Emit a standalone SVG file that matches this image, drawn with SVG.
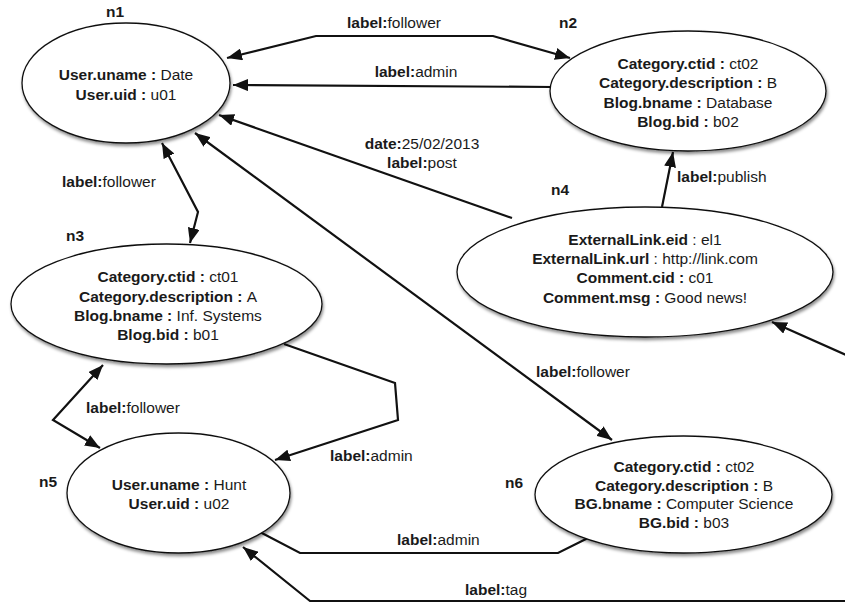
<svg xmlns="http://www.w3.org/2000/svg" width="845" height="603" viewBox="0 0 845 603">
<style>
text{font-family:"Liberation Sans",Arial,Helvetica,sans-serif;font-size:15.5px;fill:#1a1a1a}
.c{text-anchor:middle}
.b{font-weight:bold}
.node ellipse{fill:#fff;stroke:#111;stroke-width:1.3;filter:url(#sh)}
.edge{fill:none;stroke:#111;stroke-width:2.2;stroke-linejoin:miter}
.arr{marker-end:url(#ah)}
.arr2{marker-start:url(#ah);marker-end:url(#ah)}
</style>
<defs>
<filter id="sh" x="-10%" y="-10%" width="125%" height="130%">
<feDropShadow dx="1" dy="2.5" stdDeviation="1.5" flood-color="#000" flood-opacity="0.45"/>
</filter>
<marker id="ah" markerUnits="userSpaceOnUse" markerWidth="16" markerHeight="12" refX="15" refY="6" orient="auto-start-reverse">
<path d="M0,0 L15,6 L0,12 z" fill="#111"/>
</marker>
</defs>
<rect width="845" height="603" fill="#fff"/>
<g id="connectors">
<polyline class="edge arr2" points="227,58 316,36 493,36 570,58"/>
<polyline class="edge arr" points="552,87 233,85"/>
<polyline class="edge arr" points="512,218 219,115"/>
<polyline class="edge arr" points="662,207 673,152"/>
<polyline class="edge arr2" points="162,143 198,212 190,243"/>
<polyline class="edge arr2" points="195,133 612,440"/>
<polyline class="edge arr" points="284,344 395,383 398,420 275,460"/>
<polyline class="edge arr2" points="103,365 53,420 100,448"/>
<polyline class="edge" points="590,537 558,553 300,553 258,531"/>
<polyline class="edge arr" points="846,601 310,601 243,547"/>
<polyline class="edge arr" points="846,355 772,322"/>
<text x="394" y="28" class="c"><tspan class="b">label:</tspan>follower</text>
<text x="416" y="77" class="c"><tspan class="b">label:</tspan>admin</text>
<text x="422" y="149" class="c"><tspan class="b">date:</tspan>25/02/2013</text>
<text x="422" y="168" class="c"><tspan class="b">label:</tspan>post</text>
<text x="677" y="182"><tspan class="b">label:</tspan>publish</text>
<text x="62" y="187"><tspan class="b">label:</tspan>follower</text>
<text x="536" y="377"><tspan class="b">label:</tspan>follower</text>
<text x="330" y="461"><tspan class="b">label:</tspan>admin</text>
<text x="86" y="413"><tspan class="b">label:</tspan>follower</text>
<text x="397" y="545"><tspan class="b">label:</tspan>admin</text>
<text x="465" y="595"><tspan class="b">label:</tspan>tag</text>
</g>
<g id="n1" class="node">
<ellipse cx="126" cy="83" rx="104" ry="60"/>
<text x="115" y="17" class="c b">n1</text>
<text x="126" y="80" class="c"><tspan class="b">User.uname : </tspan>Date</text>
<text x="126" y="100" class="c"><tspan class="b">User.uid : </tspan>u01</text>
</g>
<g id="n2" class="node">
<ellipse cx="688" cy="91" rx="138" ry="60"/>
<text x="568" y="28" class="c b">n2</text>
<text x="688" y="69" class="c"><tspan class="b">Category.ctid : </tspan>ct02</text>
<text x="688" y="88" class="c"><tspan class="b">Category.description : </tspan>B</text>
<text x="688" y="108" class="c"><tspan class="b">Blog.bname : </tspan>Database</text>
<text x="688" y="127" class="c"><tspan class="b">Blog.bid : </tspan>b02</text>
</g>
<g id="n3" class="node">
<ellipse cx="166.5" cy="304" rx="155.5" ry="60"/>
<text x="75" y="241" class="c b">n3</text>
<text x="168" y="282" class="c"><tspan class="b">Category.ctid : </tspan>ct01</text>
<text x="168" y="302" class="c"><tspan class="b">Category.description : </tspan>A</text>
<text x="168" y="321" class="c"><tspan class="b">Blog.bname : </tspan>Inf. Systems</text>
<text x="168" y="340" class="c"><tspan class="b">Blog.bid : </tspan>b01</text>
</g>
<g id="n4" class="node">
<ellipse cx="645" cy="272" rx="188" ry="65"/>
<text x="560" y="195" class="c b">n4</text>
<text x="645" y="245" class="c"><tspan class="b">ExternalLink.eid</tspan> : el1</text>
<text x="645" y="264" class="c"><tspan class="b">ExternalLink.url</tspan> : http://link.com</text>
<text x="645" y="283" class="c"><tspan class="b">Comment.cid : </tspan>c01</text>
<text x="645" y="303" class="c"><tspan class="b">Comment.msg : </tspan>Good news!</text>
</g>
<g id="n5" class="node">
<ellipse cx="178.5" cy="493" rx="111.5" ry="60"/>
<text x="48" y="487" class="c b">n5</text>
<text x="179" y="490" class="c"><tspan class="b">User.uname : </tspan>Hunt</text>
<text x="179" y="509" class="c"><tspan class="b">User.uid : </tspan>u02</text>
</g>
<g id="n6" class="node">
<ellipse cx="683.5" cy="494.5" rx="148.5" ry="58.5"/>
<text x="514" y="488" class="c b">n6</text>
<text x="684" y="472" class="c"><tspan class="b">Category.ctid : </tspan>ct02</text>
<text x="684" y="491" class="c"><tspan class="b">Category.description : </tspan>B</text>
<text x="684" y="509" class="c"><tspan class="b">BG.bname : </tspan>Computer Science</text>
<text x="684" y="528" class="c"><tspan class="b">BG.bid : </tspan>b03</text>
</g>
</svg>
